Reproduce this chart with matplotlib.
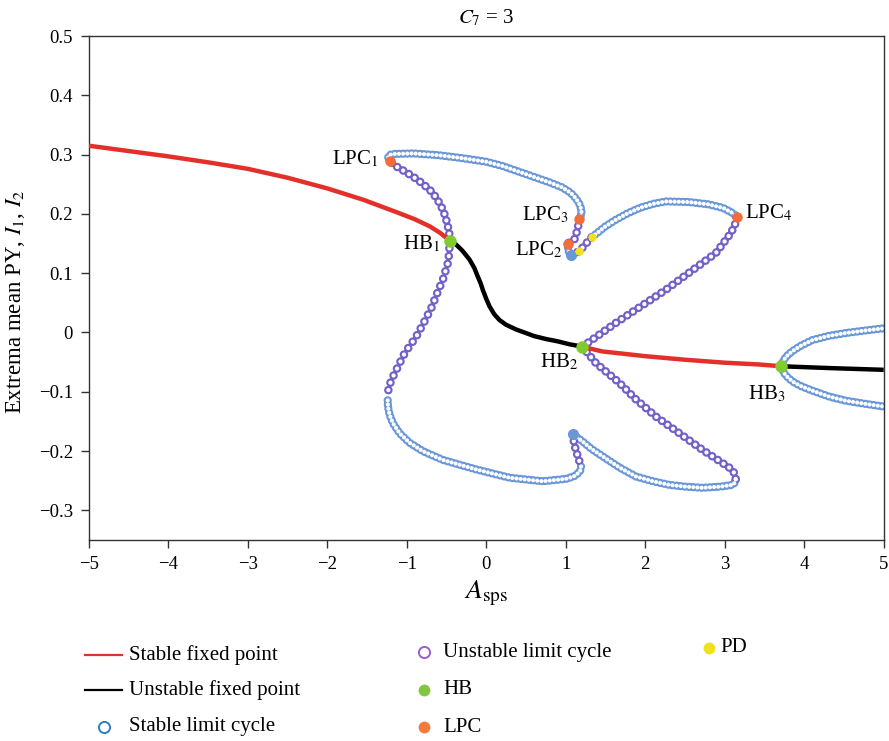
import matplotlib
matplotlib.use("Agg")
import matplotlib.pyplot as plt
from matplotlib.lines import Line2D

plt.rcParams["font.family"] = ["Liberation Serif", "DejaVu Serif"]
plt.rcParams["mathtext.fontset"] = "stix"
plt.rcParams["font.size"] = 13.5
plt.rcParams["lines.scale_dashes"] = False

# fixed point branches
stable_fp1_x = [-5, -4.5, -4, -3.5, -3, -2.5, -2, -1.55, -1.13, -0.9, -0.71, -0.58, -0.46]
stable_fp1_y = [0.315, 0.306, 0.297, 0.287, 0.276, 0.261, 0.243, 0.224, 0.203, 0.191, 0.179, 0.168, 0.155]
stable_fp2_x = [1.21, 1.46, 2.0, 2.5, 3.0, 3.43, 3.71]
stable_fp2_y = [-0.024, -0.032, -0.040, -0.046, -0.051, -0.054, -0.057]
unstable_fp1_x = [-0.46, -0.42, -0.377, -0.3, -0.21, -0.15, -0.105, -0.07, -0.043, 0.0, 0.042,
                  0.1, 0.167, 0.25, 0.377, 0.5, 0.6, 0.75, 0.9, 1.05, 1.21]
unstable_fp1_y = [0.155, 0.152, 0.148, 0.138, 0.123, 0.109, 0.094, 0.083, 0.072, 0.057, 0.044,
                  0.031, 0.021, 0.013, 0.005, -0.001, -0.006, -0.011, -0.015, -0.020, -0.024]
unstable_fp2_x = [3.71, 4.3, 5.0]
unstable_fp2_y = [-0.057, -0.060, -0.063]

# stable limit cycle branches
slc_top_x = [-1.215, -1.235, -1.225, -1.17, -0.92, -0.60, -0.30, 0.0, 0.2, 0.544, 0.80, 0.95,
             1.06, 1.13, 1.18, 1.20, 1.19, 1.172]
slc_top_y = [0.289, 0.294, 0.299, 0.301, 0.302, 0.299, 0.294, 0.288, 0.281, 0.265, 0.253, 0.245,
             0.236, 0.226, 0.215, 0.205, 0.197, 0.191]
slc_hook_x = [1.025, 1.03, 1.045, 1.068]
slc_hook_y = [0.150, 0.141, 0.134, 0.131]
slc_arc_x = [1.33, 1.38, 1.50, 1.63, 1.78, 1.93, 2.10, 2.26, 2.55, 2.80, 2.98, 3.08, 3.13, 3.15]
slc_arc_y = [0.161, 0.166, 0.179, 0.190, 0.201, 0.210, 0.217, 0.221, 0.220, 0.216, 0.210, 0.203, 0.198, 0.194]
slc_bot_x = [1.193, 1.19, 1.17, 1.10, 1.0, 0.711, 0.293, -0.126, -0.545, -0.80, -0.964, -1.09,
             -1.173, -1.215, -1.236, -1.24]
slc_bot_y = [-0.226, -0.231, -0.236, -0.243, -0.247, -0.251, -0.245, -0.231, -0.215, -0.200, -0.186, -0.170,
             -0.153, -0.139, -0.125, -0.11]
slc_mid_x = [3.14, 3.13, 3.10, 2.95, 2.72, 2.50, 2.30, 2.10, 1.884, 1.68, 1.465, 1.32, 1.214, 1.088]
slc_mid_y = [-0.248, -0.253, -0.257, -0.260, -0.262, -0.260, -0.257, -0.251, -0.243, -0.228, -0.209, -0.196, -0.184, -0.172]
slc_up3_x = [3.71, 3.73, 3.76, 3.81, 3.87, 3.95, 4.10, 4.30, 4.52, 4.75, 5.0]
slc_up3_y = [-0.057, -0.050, -0.043, -0.036, -0.030, -0.023, -0.013, -0.006, -0.001, 0.003, 0.007]
slc_lo3_x = [3.71, 3.73, 3.76, 3.81, 3.87, 3.95, 4.10, 4.31, 4.52, 4.75, 5.0]
slc_lo3_y = [-0.057, -0.064, -0.071, -0.078, -0.084, -0.090, -0.098, -0.108, -0.115, -0.120, -0.125]

# unstable limit cycle branches
ulc_a_x = [-0.46, -0.465, -0.482, -0.51, -0.545, -0.62, -0.712, -0.82, -0.922, -1.03, -1.131, -1.215]
ulc_a_y = [0.155, 0.168, 0.179, 0.194, 0.207, 0.226, 0.241, 0.253, 0.263, 0.272, 0.280, 0.289]
ulc_b_x = [1.172, 1.15, 1.11, 1.025]
ulc_b_y = [0.191, 0.174, 0.157, 0.150]
ulc_c_x = [1.068, 1.172, 1.25, 1.33]
ulc_c_y = [0.131, 0.137, 0.149, 0.161]
ulc_d_x = [3.15, 3.14, 3.13, 3.08, 2.89, 2.26, 1.63, 1.21]
ulc_d_y = [0.194, 0.188, 0.182, 0.168, 0.134, 0.072, 0.016, -0.024]
ulc_e_x = [1.21, 1.382, 1.675, 1.884, 2.136, 2.43, 2.72, 2.97, 3.08, 3.12, 3.14]
ulc_e_y = [-0.024, -0.052, -0.085, -0.113, -0.142, -0.170, -0.198, -0.220, -0.230, -0.237, -0.248]
ulc_f_x = [1.088, 1.11, 1.15, 1.193]
ulc_f_y = [-0.172, -0.19, -0.208, -0.226]
ulc_g_x = [-0.46, -0.465, -0.482, -0.545, -0.608, -0.691, -0.775, -0.88, -1.026, -1.13, -1.193,
           -1.223, -1.236, -1.24]
ulc_g_y = [0.155, 0.134, 0.117, 0.089, 0.069, 0.041, 0.019, -0.007, -0.035, -0.063, -0.080,
           -0.092, -0.101, -0.11]

# bifurcation points
hb_x = [-0.46, 1.21, 3.71]
hb_y = [0.155, -0.024, -0.057]
hb_names = ["HB$_1$", "HB$_2$", "HB$_3$"]
lpc_x = [-1.215, 1.025, 1.172, 3.15]
lpc_y = [0.289, 0.150, 0.191, 0.194]
lpc_names = ["LPC$_1$", "LPC$_2$", "LPC$_3$", "LPC$_4$"]
pd_x = [1.172, 1.33]
pd_y = [0.137, 0.161]
cluster_x = [1.068, 1.088]
cluster_y = [0.131, -0.172]

xticks = [-5, -4, -3, -2, -1, 0, 1, 2, 3, 4, 5]
xticklabels = ["\u22125", "\u22124", "\u22123", "\u22122", "\u22121", "0", "1", "2", "3", "4", "5"]
yticks = [-0.3, -0.2, -0.1, 0, 0.1, 0.2, 0.3, 0.4, 0.5]
yticklabels = ["\u22120.3", "\u22120.2", "\u22120.1", "0", "0.1", "0.2", "0.3", "0.4", "0.5"]

blue = "#6a97d8"
purple = "#7360c8"
red = "#e3302a"
green = "#7fcb30"
orange = "#f36d3a"
yellow = "#efe21c"

fig = plt.figure(figsize=(8.89, 7.41), dpi=100)
ax = fig.add_axes([0.0998, 0.2713, 0.8942, 0.6801])


def rings(x, y, color, gap, size=5.0):
    ax.plot(x, y, color=color, lw=size, dashes=(0.01, gap),
            dash_capstyle="round", zorder=2)
    ax.plot(x, y, color="white", lw=size * 0.5, dashes=(0.01, gap),
            dash_capstyle="round", zorder=2.1)


for xs, ys in [(slc_top_x, slc_top_y), (slc_hook_x, slc_hook_y), (slc_arc_x, slc_arc_y),
               (slc_bot_x, slc_bot_y), (slc_mid_x, slc_mid_y),
               (slc_up3_x, slc_up3_y), (slc_lo3_x, slc_lo3_y)]:
    rings(xs, ys, blue, 3.0, 6.0)

for xs, ys in [(ulc_a_x, ulc_a_y), (ulc_b_x, ulc_b_y), (ulc_c_x, ulc_c_y),
               (ulc_d_x, ulc_d_y), (ulc_e_x, ulc_e_y), (ulc_f_x, ulc_f_y)]:
    rings(xs, ys, purple, 4.9, 6.2)
rings(ulc_g_x, ulc_g_y, purple, 5.6, 6.2)

ax.plot(stable_fp1_x, stable_fp1_y, color=red, lw=3.2, solid_capstyle="butt", zorder=3)
ax.plot(stable_fp2_x, stable_fp2_y, color=red, lw=3.2, zorder=3)
ax.plot(unstable_fp1_x, unstable_fp1_y, color="black", lw=3.2, zorder=3)
ax.plot(unstable_fp2_x, unstable_fp2_y, color="black", lw=3.2, solid_capstyle="butt", zorder=3)

ax.plot(cluster_x, cluster_y, "o", color=blue, ms=8, mec="none", zorder=4)
ax.plot(hb_x, hb_y, "o", color=green, ms=9, mec="none", zorder=5)
ax.plot(lpc_x, lpc_y, "o", color=orange, ms=7.5, mec="none", zorder=5)
ax.plot(pd_x, pd_y, "o", color=yellow, ms=6, mec="none", zorder=5)

# point labels
lab = dict(fontsize=15, va="center")
ax.text(-1.35, 0.293, lpc_names[0], ha="right", **lab)
ax.text(0.96, 0.140, lpc_names[1], ha="right", **lab)
ax.text(1.04, 0.198, lpc_names[2], ha="right", **lab)
ax.text(3.25, 0.201, lpc_names[3], ha="left", **lab)
ax.text(-0.58, 0.150, hb_names[0], ha="right", **lab)
ax.text(1.16, -0.050, hb_names[1], ha="right", **lab)
ax.text(3.76, -0.103, hb_names[2], ha="right", **lab)

ax.set_xlim(-5, 5)
ax.set_ylim(-0.35, 0.5)
ax.set_xticks(xticks)
ax.set_xticklabels(xticklabels)
ax.set_yticks(yticks)
ax.set_yticklabels(yticklabels)
ax.tick_params(direction="out", length=5.5, width=1, color="#333333", pad=6)
for s in ax.spines.values():
    s.set_color("#333333")
    s.set_linewidth(1)

ax.set_title("$C_7$ = 3", fontsize=15, pad=9)
ax.set_xlabel("$A_{\\mathrm{sps}}$", fontsize=20, labelpad=4)
ax.set_ylabel("Extrema mean PY, $I_1$, $I_2$", fontsize=16.5)
ax.yaxis.set_label_coords(-0.078, 0.472)


# legend drawn by hand in figure pixels
def fx(px):
    return px / 889


def fy(py):
    return 1 - py / 741


fig.add_artist(Line2D([fx(85), fx(122)], [fy(655), fy(655)], color=red, lw=1.6))
fig.add_artist(Line2D([fx(85), fx(122)], [fy(690), fy(690)], color="black", lw=1.6))
fig.add_artist(Line2D([fx(104)], [fy(727)], marker="o", ms=8, mfc="none", mec="#2d7cc4", mew=1.4))
fig.add_artist(Line2D([fx(424)], [fy(652)], marker="o", ms=8, mfc="none", mec="#9a5cd0", mew=1.4))
fig.add_artist(Line2D([fx(424)], [fy(690)], marker="o", ms=8.5, color="#82c83c", mec="none"))
fig.add_artist(Line2D([fx(424)], [fy(727)], marker="o", ms=8.5, color="#f47a3b", mec="none"))
fig.add_artist(Line2D([fx(709)], [fy(648)], marker="o", ms=8.5, color=yellow, mec="none"))

leg = dict(fontsize=15, va="center")
fig.text(fx(129), fy(655), "Stable fixed point", **leg)
fig.text(fx(129), fy(690), "Unstable fixed point", **leg)
fig.text(fx(129), fy(727), "Stable limit cycle", **leg)
fig.text(fx(443), fy(652), "Unstable limit cycle", **leg)
fig.text(fx(443), fy(690), "HB", **leg)
fig.text(fx(443), fy(727), "LPC", **leg)
fig.text(fx(720), fy(648), "PD", **leg)

fig.savefig("out.png", dpi=100)
